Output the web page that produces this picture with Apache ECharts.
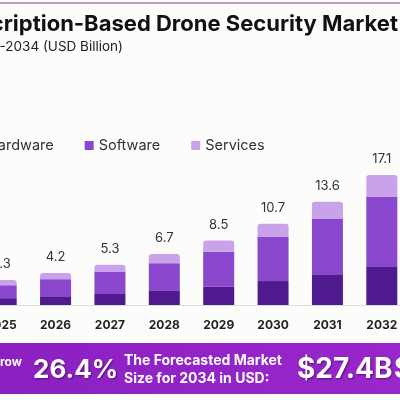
<!DOCTYPE html>
<html>
<head>
  <meta charset="UTF-8">
  <title>Subscription-Based Drone Security Market</title>
  <script src="https://cdn.jsdelivr.net/npm/echarts@6/dist/echarts.min.js"></script>
  <style>
    html, body { margin: 0; padding: 0; background: #fcfcfa; overflow: hidden; }
    /* the reference is cropped on both sides, so the chart is wider than the window */
    #main { position: absolute; left: -40px; top: 0; width: 480px; height: 400px; }
  </style>
</head>
<body>
  <div id="main"></div>

  <script>
    const years = ['2025', '2026', '2027', '2028', '2029', '2030', '2031', '2032'];
    const hardware = [0.9, 1.15, 1.45, 1.85, 2.4, 3.15, 3.95, 5.0];
    const software = [1.7, 2.25, 2.9, 3.65, 4.6, 5.8, 7.35, 9.2];
    const services = [0.7, 0.8, 0.95, 1.2, 1.5, 1.75, 2.3, 2.9];
    const totals = [3.3, 4.2, 5.3, 6.7, 8.5, 10.7, 13.6, 17.1];

    const font = 'Inter, "Open Sans", sans-serif';
    const shadow = {
      textShadowColor: 'rgba(40,0,60,0.6)',
      textShadowBlur: 2,
      textShadowOffsetX: 1,
      textShadowOffsetY: 1
    };

    const option = {
      backgroundColor: '#fcfcfa',
      animation: false,
      textStyle: { fontFamily: font },
      legend: {
        data: ['Hardware', 'Software', 'Services'],
        left: 8,
        top: 133,
        icon: 'rect',
        itemWidth: 9,
        itemHeight: 9,
        itemGap: 31,
        textStyle: { fontSize: 14.5, color: '#333', fontFamily: font }
      },
      grid: {
        left: 14,
        right: 31,
        top: 153,
        bottom: 95
      },
      xAxis: {
        type: 'category',
        data: years,
        axisTick: { show: false },
        axisLine: { lineStyle: { color: '#dddddd', width: 1 } },
        axisLabel: {
          margin: 14,
          fontSize: 12,
          fontWeight: 'bold',
          color: '#222',
          fontFamily: font
        }
      },
      yAxis: {
        type: 'value',
        min: 0,
        max: 20,
        show: false
      },
      series: [
        {
          name: 'Hardware',
          type: 'bar',
          stack: 'total',
          barWidth: 31,
          itemStyle: { color: '#4f1a8e' },
          data: hardware
        },
        {
          name: 'Software',
          type: 'bar',
          stack: 'total',
          itemStyle: { color: '#8a46cc' },
          data: software
        },
        {
          name: 'Services',
          type: 'bar',
          stack: 'total',
          itemStyle: { color: '#caa2ea', borderRadius: [3, 3, 0, 0] },
          label: {
            show: true,
            position: 'top',
            distance: 9,
            fontSize: 13,
            color: '#333',
            fontFamily: font,
            formatter: (p) => totals[p.dataIndex]
          },
          data: services
        }
      ],
      graphic: [
        {
          type: 'rect',
          shape: { x: 0, y: 2, width: 480, height: 2 },
          style: { fill: '#b89cc2' }
        },
        {
          type: 'text',
          x: 438,
          y: 24,
          style: {
            text: 'Subscription-Based Drone Security Market',
            align: 'right',
            verticalAlign: 'middle',
            font: 'bold 22px ' + font,
            fill: '#111'
          }
        },
        {
          type: 'text',
          x: 163,
          y: 47,
          style: {
            text: 'Market Size, 2025-2034 (USD Billion)',
            align: 'right',
            verticalAlign: 'middle',
            font: '13.5px ' + font,
            fill: '#222'
          }
        },
        {
          type: 'rect',
          shape: { x: 0, y: 343, width: 480, height: 51 },
          style: {
            fill: new echarts.graphic.LinearGradient(0, 0, 1, 0, [
              { offset: 0, color: '#8a1fc0' },
              { offset: 1, color: '#9a28cc' }
            ])
          }
        },
        {
          type: 'text',
          x: 62,
          y: 362,
          style: {
            text: 'Grow',
            align: 'right',
            verticalAlign: 'middle',
            font: 'bold 12px ' + font,
            fill: '#fff'
          }
        },
        {
          type: 'text',
          x: 73,
          y: 370,
          style: Object.assign({
            text: '26.4%',
            align: 'left',
            verticalAlign: 'middle',
            font: 'bold 26px ' + font,
            fill: '#fff'
          }, shadow)
        },
        {
          type: 'text',
          x: 164,
          y: 361,
          style: {
            text: 'The Forecasted Market',
            align: 'left',
            verticalAlign: 'middle',
            font: 'bold 14px ' + font,
            fill: '#fff'
          }
        },
        {
          type: 'text',
          x: 164,
          y: 379,
          style: {
            text: 'Size for 2034 in USD:',
            align: 'left',
            verticalAlign: 'middle',
            font: 'bold 14px ' + font,
            fill: '#fff'
          }
        },
        {
          type: 'text',
          x: 337,
          y: 370,
          style: Object.assign({
            text: '$27.4B',
            align: 'left',
            verticalAlign: 'middle',
            font: 'bold 28px ' + font,
            fill: '#fff'
          }, shadow)
        },
        {
          type: 'text',
          x: 434,
          y: 370,
          style: {
            text: '$',
            align: 'left',
            verticalAlign: 'middle',
            font: 'bold 28px ' + font,
            fill: '#fff'
          }
        }
      ]
    };

    const chart = echarts.init(document.getElementById('main'));
    chart.setOption(option);
  </script>
</body>
</html>
